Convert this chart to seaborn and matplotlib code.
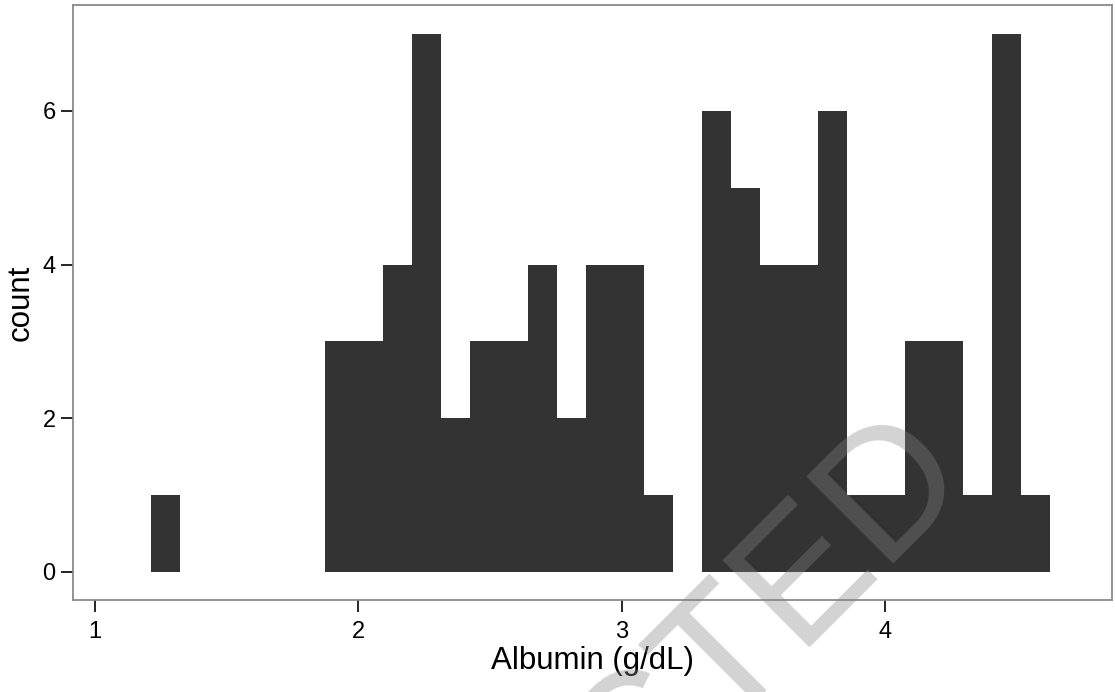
import numpy as np
import pandas as pd
import matplotlib
matplotlib.use("Agg")
import matplotlib.pyplot as plt
import seaborn as sns

# bin centres (g/dL) and counts
albumin_mid = [1.27, 1.38, 1.49, 1.60, 1.71, 1.82, 1.93, 2.04, 2.15, 2.26, 2.37,
               2.48, 2.59, 2.70, 2.81, 2.92, 3.03, 3.14, 3.25, 3.36, 3.47, 3.58,
               3.69, 3.80, 3.91, 4.02, 4.13, 4.24, 4.35, 4.46, 4.57]
counts = [1, 0, 0, 0, 0, 0, 3, 3, 4, 7, 2, 3, 3, 4, 2, 4, 4, 1, 0, 6, 5, 4,
          4, 6, 1, 1, 3, 3, 1, 7, 1]
x_ticks = [1, 2, 3, 4]
y_ticks = [0, 2, 4, 6]

sns.set_style("white")
plt.rcParams['font.family'] = ['Liberation Sans', 'DejaVu Sans']

df = pd.DataFrame({"albumin": albumin_mid, "n": counts})

fig = plt.figure(figsize=(11.15, 6.92), dpi=100)
ax = fig.add_axes([0.0655, 0.133, 0.932, 0.860])

sns.histplot(data=df, x="albumin", weights="n", bins=31, binrange=(1.215, 4.625),
             color="#333333", alpha=1, edgecolor="none", linewidth=0, ax=ax)

ax.set_xlim(0.918, 4.862)
ax.set_ylim(-0.365, 7.38)
ax.set_xticks(x_ticks)
ax.set_yticks(y_ticks)
ax.tick_params(axis="both", direction="out", length=8.5, width=1.2, color="black",
               labelsize=17, labelcolor="black", bottom=True, left=True)
ax.tick_params(axis="x", pad=7)
ax.tick_params(axis="y", pad=4)
for s in ax.spines.values():
    s.set_color("#8a8a8a")
    s.set_linewidth(1.3)

ax.set_xlabel("Albumin (g/dL)", fontsize=22.5, labelpad=2, color="black")
ax.set_ylabel("count", fontsize=22.5, labelpad=5, color="black")

# watermark over the plot
fig.text(0.872, 0.312, "CTED", rotation=45, rotation_mode="anchor", ha="right",
         va="baseline", fontsize=128, color="#848484", alpha=0.36)

fig.savefig("out.png", dpi=100, facecolor="white")
